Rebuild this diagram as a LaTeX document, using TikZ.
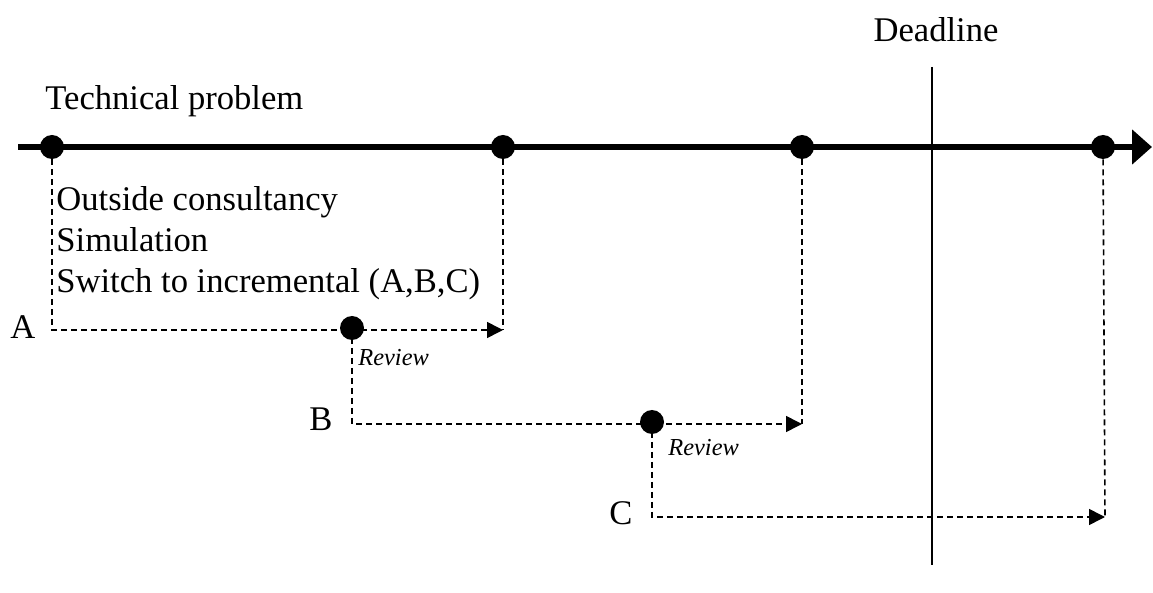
\documentclass[tikz,border=0pt]{standalone}
\usepackage{fontspec}
\setmainfont{Liberation Serif}
\usetikzlibrary{arrows.meta}
\begin{document}
\begin{tikzpicture}[x=0.5pt,y=-0.5pt,
  dot/.style={circle,fill=black,draw=none,inner sep=0pt,minimum size=12pt},
  lbl/.style={inner sep=0pt,anchor=base west,font=\fontsize{17.3}{20}\selectfont},
  rev/.style={inner sep=0pt,anchor=base west,font=\fontsize{12.2}{14}\selectfont\itshape},
  dashline/.style={line width=0.8pt,dash pattern=on 3pt off 2pt},
  dasharrow/.style={dashline,-{Triangle[length=8pt,width=8pt]}},
  axis/.style={line width=3pt,-{Triangle[length=10pt,width=17pt]}}]
\useasboundingbox (0,0) rectangle (1153,593);

% time axis
\coordinate (start) at (18,147);
\coordinate (end) at (1152,147);
\draw[axis] (start) -- (end);

% deadline marker
\coordinate (dtop) at (932,67);
\coordinate (dbot) at (932,565);
\draw[line width=0.7pt] (dtop) -- (dbot);
\node[inner sep=0pt,anchor=base,font=\fontsize{17.3}{20}\selectfont] (deadline) at (936,42) {Deadline};

% milestones on the axis
\node[dot] (p1) at (52,147) {};
\node[dot] (p2) at (503,147) {};
\node[dot] (p3) at (802,147) {};
\node[dot] (p4) at (1103,147) {};

% ends of the increments
\coordinate (a2) at (503,330);
\coordinate (b2) at (802,424);
\coordinate (c2) at (1105,517);

% increment A
\draw[dasharrow] (p1) |- (a2);
\draw[dashline] (p2) -- (a2);
% increment B
\coordinate (b0) at (352,328);
\draw[dasharrow] (b0) |- (b2);
\draw[dashline] (p3) -- (b2);
% increment C
\coordinate (c0) at (652,422);
\draw[dasharrow] (c0) |- (c2);
\draw[dashline] (p4) -- (c2);

% review points
\node[dot] (rB) at (b0) {};
\node[dot] (rC) at (c0) {};

% labels
\node[lbl] (tp) at (45,110) {Technical problem};
\node[lbl] (l1) at (56,211) {Outside consultancy};
\node[lbl] (l2) at (56,252) {Simulation};
\node[lbl] (l3) at (56,293) {Switch to incremental (A,B,C)};
\node[lbl] (la) at (10,339) {A};
\node[lbl] (lb) at (309,431) {B};
\node[lbl] (lc) at (609,524) {C};
\node[rev] (r1) at (358,366) {Review};
\node[rev] (r2) at (668,456) {Review};
\end{tikzpicture}
\end{document}
